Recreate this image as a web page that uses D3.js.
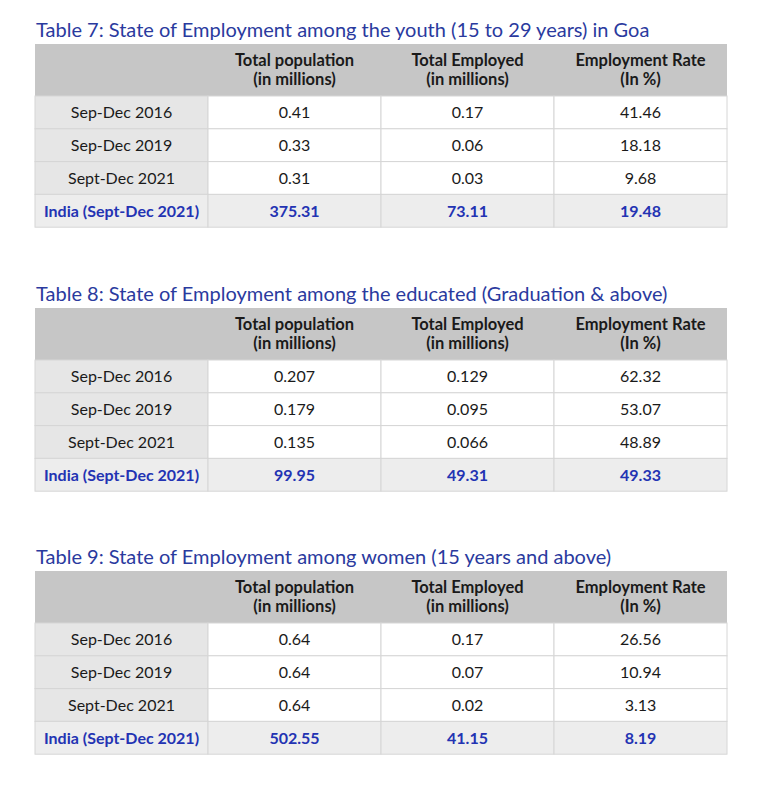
<!DOCTYPE html>
<html>
<head>
<meta charset="utf-8">
<script src="https://cdn.jsdelivr.net/npm/d3@7.9.0/dist/d3.min.js"></script>
<style>
  body { margin: 0; background: #fff; }
  svg text { font-family: Lato, "Open Sans", sans-serif; }
</style>
</head>
<body>
<svg id="chart" width="759" height="785"></svg>
<script>
const columns = ['', 'Total population|(in millions)', 'Total Employed|(in millions)', 'Employment Rate|(In %)'];
const periods = ['Sep-Dec 2016', 'Sep-Dec 2019', 'Sept-Dec 2021', 'India (Sept-Dec 2021)'];

const youthPop = ['0.41', '0.33', '0.31', '375.31'];
const youthEmp = ['0.17', '0.06', '0.03', '73.11'];
const youthRate = ['41.46', '18.18', '9.68', '19.48'];

const eduPop = ['0.207', '0.179', '0.135', '99.95'];
const eduEmp = ['0.129', '0.095', '0.066', '49.31'];
const eduRate = ['62.32', '53.07', '48.89', '49.33'];

const womenPop = ['0.64', '0.64', '0.64', '502.55'];
const womenEmp = ['0.17', '0.07', '0.02', '41.15'];
const womenRate = ['26.56', '10.94', '3.13', '8.19'];

const tables = [
  { title: 'Table 7: State of Employment among the youth (15 to 29 years) in Goa', top: 44, cols: [youthPop, youthEmp, youthRate] },
  { title: 'Table 8: State of Employment among the educated (Graduation & above)', top: 308, cols: [eduPop, eduEmp, eduRate] },
  { title: 'Table 9: State of Employment among women (15 years and above)', top: 571, cols: [womenPop, womenEmp, womenRate] }
];

const svg = d3.select('#chart');
const x = d3.scaleBand().domain(d3.range(4)).range([35, 727]);
const headH = 52;
const rowH = 32.8;
const titleColor = '#2a3a9e';
const indiaColor = '#2333b3';

tables.forEach((t) => {
  const g = svg.append('g');
  const y = d3.scaleBand().domain(d3.range(periods.length)).range([t.top + headH, t.top + headH + rowH * periods.length]);

  g.append('text')
    .attr('x', 36).attr('y', t.top - 7)
    .attr('fill', titleColor)
    .attr('font-size', 20)
    .text(t.title);

  // header
  g.append('rect')
    .attr('x', x(0)).attr('y', t.top)
    .attr('width', x.range()[1] - x(0)).attr('height', headH)
    .attr('fill', '#c6c6c6');

  columns.forEach((c, i) => {
    if (!c) return;
    const lines = c.split('|');
    lines.forEach((ln, k) => {
      g.append('text')
        .attr('x', x(i) + x.bandwidth() / 2)
        .attr('y', t.top + 22 + k * 19)
        .attr('text-anchor', 'middle')
        .attr('font-size', 16.5)
        .attr('font-weight', 'bold')
        .attr('fill', '#1a1a1a')
        .text(ln);
    });
  });

  // body cells
  periods.forEach((p, r) => {
    const india = r === periods.length - 1;
    for (let i = 0; i < 4; i++) {
      g.append('rect')
        .attr('x', x(i)).attr('y', y(r))
        .attr('width', x.bandwidth()).attr('height', y.bandwidth())
        .attr('fill', india ? '#ededed' : (i === 0 ? '#e6e6e6' : '#ffffff'))
        .attr('stroke', '#d6d6d6')
        .attr('stroke-width', 1);
      const val = i === 0 ? p : t.cols[i - 1][r];
      g.append('text')
        .attr('x', x(i) + x.bandwidth() / 2)
        .attr('y', y(r) + y.bandwidth() / 2 + 6)
        .attr('text-anchor', 'middle')
        .attr('font-size', 16)
        .attr('font-weight', india ? 'bold' : 'normal')
        .attr('fill', india ? indiaColor : '#1a1a1a')
        .text(val);
    }
  });
});
</script>
</body>
</html>
